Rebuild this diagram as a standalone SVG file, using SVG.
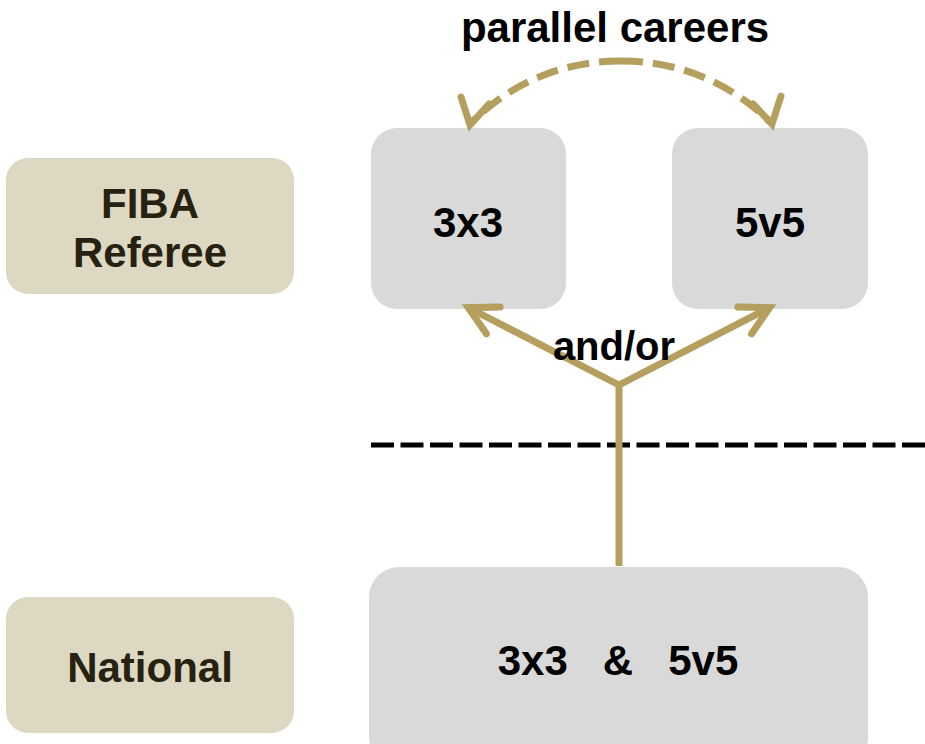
<svg xmlns="http://www.w3.org/2000/svg" width="925" height="744" viewBox="0 0 925 744">
<style>
.lbl{fill:#DDD8C2}
.node{fill:#D9D9D9}
text{font-family:"Liberation Sans",Arial,sans-serif;font-weight:bold;text-anchor:middle}
.dk{fill:#262111}
.bk{fill:#000}
.gold{stroke:#B49F5F;fill:none;stroke-width:7}
.head{stroke:#B49F5F;fill:none;stroke-width:7;stroke-linecap:round;stroke-linejoin:miter}
</style>
<defs>
<marker id="ah" markerUnits="userSpaceOnUse" markerWidth="50" markerHeight="50" viewBox="-35 -25 50 50" refX="-3" refY="0" orient="auto">
<path d="M-28,-15 L0,0 L-28,15" fill="none" stroke="#B49F5F" stroke-width="7" stroke-linecap="round" stroke-linejoin="miter"/>
</marker>
</defs>
<rect width="925" height="744" fill="#fff"/>
<g id="fiba-label"><rect class="lbl" x="6" y="158" width="288" height="136" rx="22"/><text class="dk" x="150" y="218" font-size="42">FIBA</text><text class="dk" x="150" y="267" font-size="42">Referee</text></g>
<g id="national-label"><rect class="lbl" x="6" y="597" width="288" height="136" rx="22"/><text class="dk" x="150" y="682" font-size="42">National</text></g>
<g id="n3x3"><rect class="node" x="371" y="128" width="195" height="181" rx="26"/><text class="bk" x="468" y="237" font-size="42">3x3</text></g>
<g id="n5v5"><rect class="node" x="672" y="128" width="196" height="181" rx="26"/><text class="bk" x="770" y="237" font-size="42">5v5</text></g>
<g id="national"><rect class="node" x="369" y="567" width="499" height="200" rx="30"/><text class="bk" x="618" y="675" font-size="42" xml:space="preserve">3x3   &amp;   5v5</text></g>
<g id="connectors">
<line x1="371" y1="445" x2="925" y2="445" stroke="#000" stroke-width="5" stroke-dasharray="23 6.5"/>
<path class="gold" d="M619,566 L619,385"/>
<path class="gold" d="M619,385 L471,309" marker-end="url(#ah)"/>
<path class="gold" d="M619,385 L767,309" marker-end="url(#ah)"/>
<path class="gold" d="M621,61 A208,208 0 0 0 472,122" stroke-dasharray="22 10"/>
<path class="gold" d="M621,61 A208,208 0 0 1 770,122" stroke-dasharray="22 10"/>
<path class="head" d="M461,97 L470,125 L489,104"/>
<path class="head" d="M781,96 L772,124 L753,104"/>
</g>
<text class="bk" x="615" y="42" font-size="42">parallel careers</text>
<text class="bk" x="614" y="360" font-size="40">and/or</text>
</svg>
